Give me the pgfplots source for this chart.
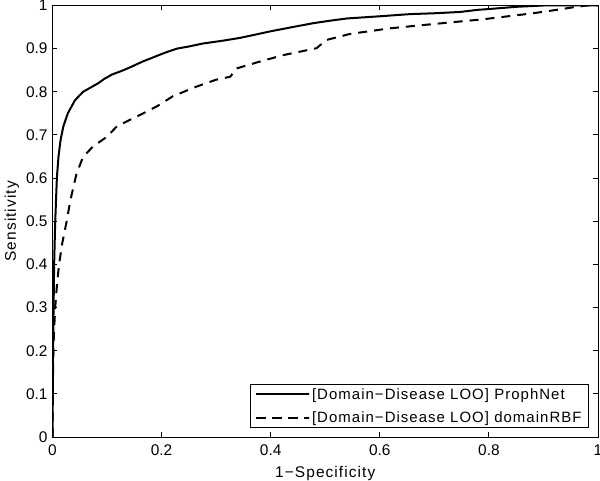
\documentclass[border=0pt]{standalone}
\usepackage{fontspec}
\setmainfont{Liberation Sans}[LetterSpace=7]
\newfontfamily\tickfont{Liberation Sans}
\usepackage{pgfplots}
\pgfplotsset{compat=1.18}
\begin{document}
\begin{tikzpicture}
\begin{axis}[
  scale only axis,
  width=545.5bp, height=431.5bp,
  xmin=0, xmax=1, ymin=0, ymax=1,
  xtick={0,0.2,0.4,0.6,0.8,1},
  ytick={0,0.1,0.2,0.3,0.4,0.5,0.6,0.7,0.8,0.9,1},
  xticklabels={0,0.2,0.4,0.6,0.8,1},
  yticklabels={0,0.1,0.2,0.3,0.4,0.5,0.6,0.7,0.8,0.9,1},
  tick align=inside, tick pos=both,
  major tick length=5bp,
  axis line style={line width=0.9bp},
  every tick/.style={black, line width=0.9bp},
  /pgf/number format/assume math mode=true,
  tick label style={font=\tickfont\fontsize{15.5}{18}\selectfont},
  xticklabel style={yshift=-4bp},
  yticklabel style={xshift=-1.5bp},
  xlabel={1−Specificity},
  ylabel={Sensitivity},
  label style={font=\fontsize{15.5}{18}\selectfont},
  xlabel style={at={(axis description cs:0.5,0)}, anchor=base, yshift=-40bp},
  legend cell align=left,
  legend image code/.code={\path (-1bp,0bp) rectangle (52bp,0bp);\draw[#1] (0bp,0bp) -- (51bp,0bp);},
  legend style={at={(rel axis cs:1,0)}, anchor=south east, xshift=-9bp, yshift=8.7bp,
    draw=black, line width=0.9bp, font=\fontsize{15}{18}\selectfont,
    inner xsep=5bp, inner ysep=2bp, row sep=7bp},
]
\addplot[black, line width=2bp] coordinates {
(0,0) (0.001,0.2) (0.003,0.4) (0.005,0.5) (0.008,0.6) (0.011,0.65) (0.015,0.69)
(0.02,0.72) (0.028,0.75) (0.041,0.78) (0.056,0.80) (0.07,0.81) (0.084,0.82)
(0.095,0.83) (0.109,0.84) (0.13,0.85) (0.148,0.86) (0.165,0.87) (0.185,0.88)
(0.205,0.89) (0.228,0.90) (0.25,0.905) (0.276,0.912) (0.31,0.918) (0.344,0.925)
(0.37,0.932) (0.399,0.94) (0.44,0.95) (0.478,0.959) (0.51,0.965) (0.54,0.970)
(0.6,0.975) (0.655,0.980) (0.7,0.982) (0.747,0.985) (0.78,0.99) (0.802,0.992)
(0.851,0.997) (0.9,1.0) (1,1)
};
\addlegendentry{[Domain−Disease LOO] ProphNet}
\addplot[black, line width=2bp, dash pattern=on 9bp off 7bp] coordinates {
(0,0) (0.001,0.15) (0.0015,0.2) (0.003,0.25) (0.005,0.3) (0.008,0.35) (0.012,0.4)
(0.018,0.45) (0.026,0.50) (0.033,0.55) (0.044,0.61) (0.056,0.649) (0.074,0.673)
(0.1,0.696) (0.118,0.72) (0.155,0.743) (0.191,0.766) (0.221,0.79) (0.264,0.812)
(0.30,0.828) (0.326,0.835) (0.337,0.854) (0.38,0.87) (0.423,0.885) (0.484,0.901)
(0.502,0.92) (0.545,0.934) (0.618,0.947) (0.698,0.957) (0.789,0.968) (0.881,0.982)
(0.93,0.991) (0.955,0.996) (0.98,1) (1,1)
};
\addlegendentry{[Domain−Disease LOO] domainRBF}
\end{axis}
\pgfresetboundingbox
\path (-52.5bp,-44bp) rectangle (547.5bp,437bp);
\end{tikzpicture}
\end{document}
